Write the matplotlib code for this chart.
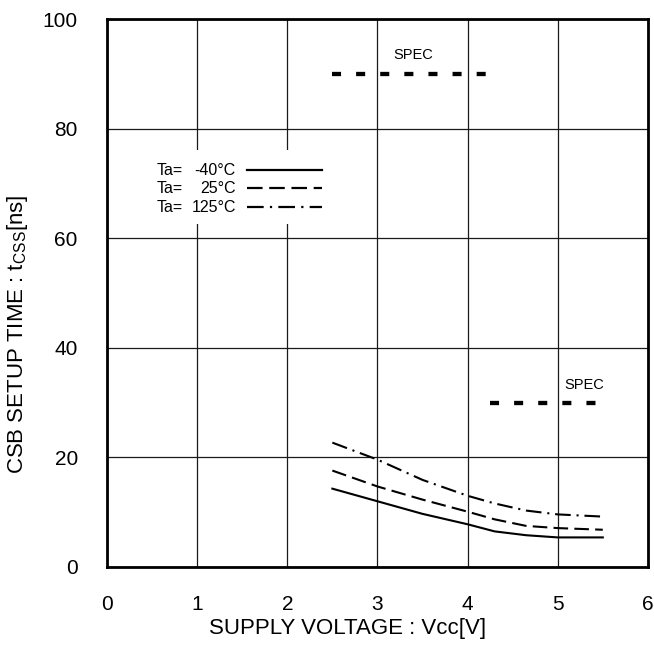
import matplotlib
matplotlib.use("Agg")
import matplotlib.pyplot as plt
from matplotlib.patches import Rectangle

plt.rcParams['font.family'] = ['Liberation Sans', 'DejaVu Sans']
plt.rcParams['mathtext.default'] = 'regular'

vcc = [2.5, 3.0, 3.5, 4.0, 4.3, 4.65, 5.0, 5.5]
t_m40 = [14.3, 12.0, 9.7, 7.8, 6.5, 5.8, 5.4, 5.4]
t_25 = [17.6, 14.7, 12.3, 10.1, 8.7, 7.5, 7.1, 6.8]
t_125 = [22.7, 19.6, 15.9, 13.0, 11.6, 10.3, 9.6, 9.2]

spec_hi_x = [2.5, 4.2]
spec_hi_y = [90, 90]
spec_lo_x = [4.25, 5.45]
spec_lo_y = [30, 30]

legend_labels = ["-40°C", "25°C", "125°C"]

fig = plt.figure(figsize=(6.54, 6.48), dpi=100)
ax = fig.add_axes([0.1636, 0.125, 0.827, 0.8455])

ax.set_xlim(0, 6)
ax.set_ylim(0, 100)
ax.set_xticks(range(0, 7))
ax.set_yticks(range(0, 101, 20))
ax.grid(True, color='#1a1a1a', linewidth=0.9)
ax.set_axisbelow(True)
ax.tick_params(axis='y', length=0, labelsize=15, pad=21)
ax.tick_params(axis='x', length=0, labelsize=15, pad=20)
for s in ax.spines.values():
    s.set_linewidth(2.0)
    s.set_color('black')

ax.add_patch(Rectangle((0.35, 62.6), 2.25, 13.5, facecolor='white', edgecolor='none', zorder=1.5))

lw = 1.5
st_solid = '-'
st_dash = (0, (7.0, 3.0))
st_dashdot = (0, (7.5, 2.8, 1.0, 2.8))

ax.plot(vcc, t_m40, color='black', lw=lw, ls=st_solid, zorder=3)
ax.plot(vcc, t_25, color='black', lw=lw, ls=st_dash, zorder=3)
ax.plot(vcc, t_125, color='black', lw=lw, ls=st_dashdot, zorder=3)

ax.plot(spec_hi_x, spec_hi_y, color='black', lw=3.1, ls=(0, (2.1, 3.5)), dash_capstyle='butt', zorder=3)
ax.plot(spec_lo_x, spec_lo_y, color='black', lw=3.1, ls=(0, (2.1, 3.5)), dash_capstyle='butt', zorder=3)
ax.text(3.40, 93.5, "SPEC", fontsize=10.5, ha='center', va='center', zorder=3)
ax.text(5.29, 33.2, "SPEC", fontsize=10.5, ha='center', va='center', zorder=3)

styles = [st_solid, st_dash, st_dashdot]
rows_y = [72.4, 69.1, 65.7]
for lab, st, yy in zip(legend_labels, styles, rows_y):
    ax.text(0.55, yy, "Ta=", fontsize=11.5, ha='left', va='center', zorder=3)
    ax.text(1.43, yy, lab, fontsize=11.5, ha='right', va='center', zorder=3)
    ax.plot([1.55, 2.39], [yy, yy], color='black', lw=1.6, ls=st, zorder=3)

ax.set_xlabel("SUPPLY VOLTAGE : Vcc[V]", fontsize=16)
ax.xaxis.set_label_coords(0.445, -0.093)
ax.set_ylabel("CSB SETUP TIME : t$_{CSS}$[ns]", fontsize=16)
ax.yaxis.set_label_coords(-0.165, 0.425)
ax.yaxis.label.set_va('center')

fig.savefig("out.png", dpi=100)
